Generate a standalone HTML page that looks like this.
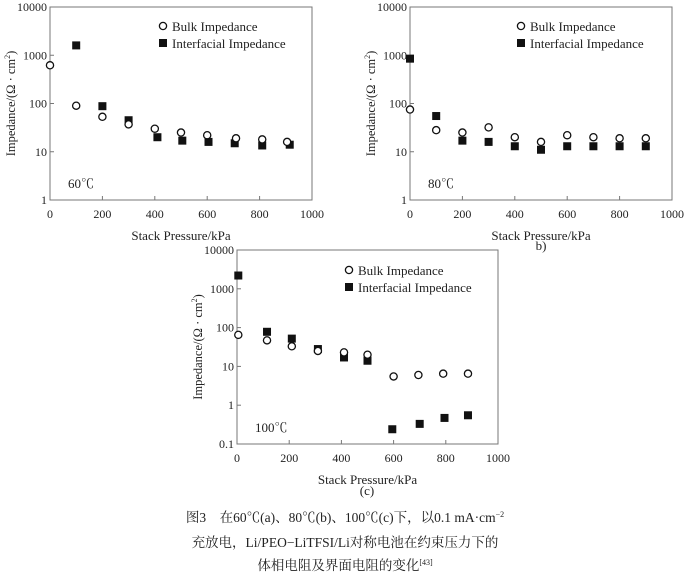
<!DOCTYPE html><html><head><meta charset="utf-8"><style>
body{margin:0;background:#fff;width:690px;height:575px;overflow:hidden}
svg text{font-family:"Liberation Serif","Noto Serif CJK SC",serif;fill:#222}
</style></head><body>
<svg id="s" width="690" height="575" xmlns="http://www.w3.org/2000/svg"></svg>
<script>
const s=document.getElementById('s');let h='';
function plot(x0,x1,yt,yb,dmax,dmin,labels,bulk,intf,temp,sub,leg){
 const dec=(yb-yt)/(dmax-dmin);
 const X=v=>x0+(x1-x0)*v/1000, Y=v=>yb-(Math.log10(v)-dmin)*dec;
 h+=`<rect x="${x0}" y="${yt}" width="${x1-x0}" height="${yb-yt}" fill="none" stroke="#777" stroke-width="1"/>`;
 for(let i=0;i<=1000;i+=200){h+=`<text x="${X(i)}" y="${yb+18}" font-size="12" text-anchor="middle">${i}</text>`;
  if(i>0&&i<1000)h+=`<line x1="${X(i)}" y1="${yb}" x2="${X(i)}" y2="${yb-4}" stroke="#777"/>`;}
 labels.forEach((l,k)=>{const y=Y(Math.pow(10,dmin+k));h+=`<text x="${x0-3}" y="${y+4}" font-size="12" text-anchor="end">${l}</text>`;
  h+=`<line x1="${x0}" y1="${y}" x2="${x0+4}" y2="${y}" stroke="#777"/>`;});
 h+=`<text x="${(x0+x1)/2}" y="${yb+40}" font-size="13" text-anchor="middle">Stack Pressure/kPa</text>`;
 const cy=(yt+yb)/2;
 h+=`<text transform="translate(${x0-35},${cy}) rotate(-90)" font-size="12.5" text-anchor="middle">Impedance/(Ω · cm<tspan dy="-5" font-size="8">2</tspan><tspan dy="5">)</tspan></text>`;
 intf.forEach(([a,b])=>h+=`<rect x="${X(a)-4}" y="${Y(b)-4}" width="8" height="8" fill="#111"/>`);
 bulk.forEach(([a,b])=>h+=`<circle cx="${X(a)}" cy="${Y(b)}" r="3.6" fill="#fff" stroke="#111" stroke-width="1.3"/>`);
 h+=`<text x="${x0+18}" y="${yb-12}" font-size="13">${temp}</text>`;
 const [lx,ly]=leg;
 h+=`<circle cx="${lx}" cy="${ly}" r="3.6" fill="#fff" stroke="#111" stroke-width="1.3"/><text x="${lx+9}" y="${ly+5}" font-size="13">Bulk Impedance</text>`;
 h+=`<rect x="${lx-4}" y="${ly+13}" width="8" height="8" fill="#111"/><text x="${lx+9}" y="${ly+22}" font-size="13">Interfacial Impedance</text>`;
 if(sub)h+=`<text x="${sub[0]}" y="${sub[1]}" font-size="13" text-anchor="middle">${sub[2]}</text>`;
}
plot(50,312,7,200,4,0,['1','10','100','1000','10000'],
 [[0,620],[100,90],[200,53],[300,37],[400,30],[500,25],[600,22],[710,19],[810,18],[905,16]],
 [[100,1600],[200,88],[300,45],[410,20],[505,17],[605,16],[705,15],[810,13.5],[915,14]],'60℃',null,[163,26]);
plot(410,672,7,200,4,0,['1','10','100','1000','10000'],
 [[0,75],[100,28],[200,25],[300,32],[400,20],[500,16],[600,22],[700,20],[800,19],[900,19]],
 [[0,850],[100,55],[200,17],[300,16],[400,13],[500,11],[600,13],[700,13],[800,13],[900,13]],'80℃',[541,250,'b)'],[521,26]);
plot(237,498,250,444,4,-1,['0.1','1','10','100','1000','10000'],
 [[5,65],[115,47],[210,33],[310,25],[410,23],[500,20],[600,5.5],[695,6],[790,6.5],[885,6.5]],
 [[5,2200],[115,78],[210,52],[310,28],[410,17],[500,14],[595,0.24],[700,0.33],[795,0.47],[885,0.55]],'100℃',[367,495,'(c)'],[349,270]);
h+=`<text x="345" y="522" font-size="13.5" text-anchor="middle">图3　在60℃(a)、80℃(b)、100℃(c)下，以0.1 mA·cm<tspan dy="-5" font-size="8">−2</tspan></text>`;
h+=`<text x="345" y="547" font-size="13.5" text-anchor="middle">充放电，Li/PEO−LiTFSI/Li对称电池在约束压力下的</text>`;
h+=`<text x="345" y="570" font-size="13.5" text-anchor="middle">体相电阻及界面电阻的变化<tspan dy="-5" font-size="8">[43]</tspan></text>`;
s.innerHTML=h;
</script></body></html>
